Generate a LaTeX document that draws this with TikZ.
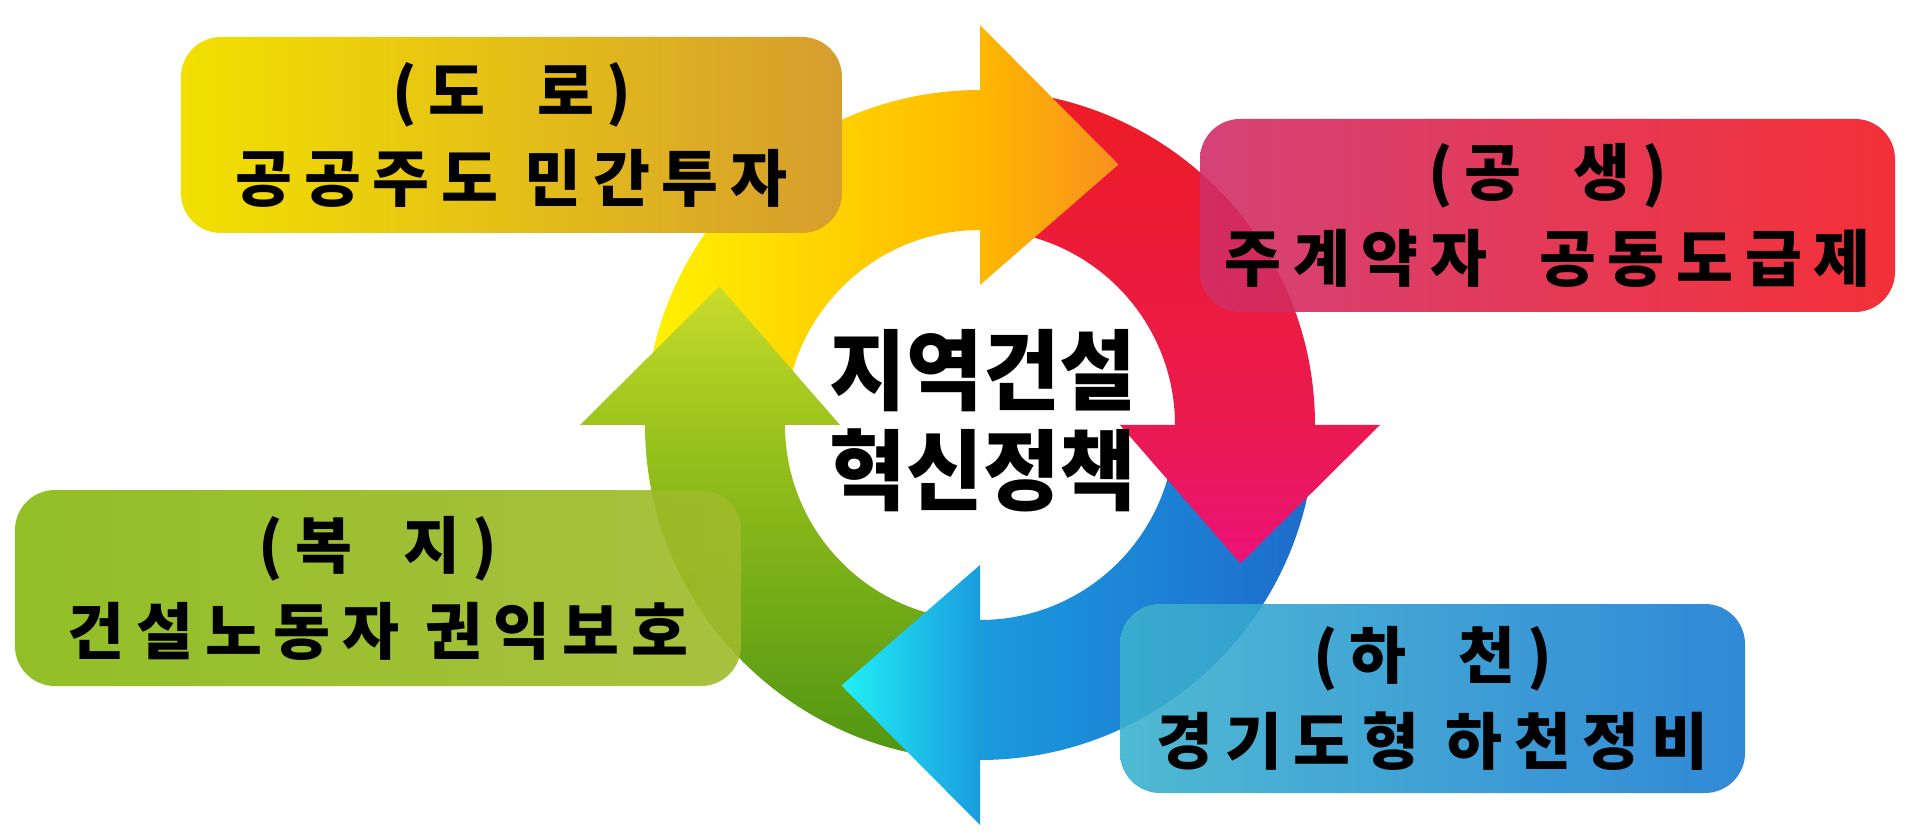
\documentclass[tikz,border=0pt]{standalone}
\usepackage{fontspec}
\newfontfamily\kr{Noto Sans CJK KR}[LetterSpace=19]
\newfontfamily\krcore{Noto Sans CJK KR}[FakeStretch=0.95]
\usetikzlibrary{positioning}

% ring colours
\definecolor{ringyellow}{HTML}{FFF200}
\definecolor{ringamber}{HTML}{FFB800}
\definecolor{ringorange}{HTML}{F7901E}
\definecolor{ringred}{HTML}{ED1C24}
\definecolor{ringcrimson}{HTML}{EA1A50}
\definecolor{ringpink}{HTML}{EC1277}
\definecolor{ringblue}{HTML}{1E6BCB}
\definecolor{ringsky}{HTML}{1A9BDE}
\definecolor{ringcyan}{HTML}{20F0F5}
\definecolor{ringgreen}{HTML}{4F9512}
\definecolor{ringlime}{HTML}{9CC41C}
\definecolor{ringyellowgreen}{HTML}{C8DC2C}
% box colours
\definecolor{roadyellow}{HTML}{F2E000}
\definecolor{roadgold}{HTML}{D69E2E}
\definecolor{coopcrimson}{HTML}{D02E68}
\definecolor{coopred}{HTML}{F21A22}
\definecolor{riverteal}{HTML}{3CB2CE}
\definecolor{riverblue}{HTML}{1A7CD2}
\definecolor{welfaregreen}{HTML}{86B810}
\definecolor{welfareolive}{HTML}{A0BA2A}

\begin{document}
\begin{tikzpicture}[
        box/.style={rounded corners=0.4cm, fill opacity=0.9, text opacity=1, align=center, inner sep=0pt,
            font=\kr\bfseries\fontsize{17.6pt}{24.5pt}\selectfont},
    ]
        \useasboundingbox (-9.80,-4.12) rectangle (9.40,4.25);

        % ring bodies
        \shade[left color=ringyellow, right color=ringamber] (180:3.35) arc[start angle=180, end angle=90, radius=3.35] -- (90:1.95) arc[start angle=90, end angle=180, radius=1.95] -- cycle;
        \shade[top color=ringred, bottom color=ringcrimson] (90:3.35) arc[start angle=90, end angle=0, radius=3.35] -- (0:1.95) arc[start angle=0, end angle=90, radius=1.95] -- cycle;
        \shade[left color=ringsky, right color=ringblue] (0:3.35) arc[start angle=0, end angle=-90, radius=3.35] -- (-90:1.95) arc[start angle=-90, end angle=0, radius=1.95] -- cycle;
        \shade[top color=ringlime, bottom color=ringgreen] (-90:3.35) arc[start angle=-90, end angle=-180, radius=3.35] -- (180:1.95) arc[start angle=180, end angle=270, radius=1.95] -- cycle;

        % ring heads
        \shade[left color=ringamber, right color=ringorange] (90:1.40) -- (90:4.00) -- (62:2.95) -- cycle;
        \shade[top color=ringcrimson, bottom color=ringpink] (0:1.40) -- (0:4.00) -- (-28:2.95) -- cycle;
        \shade[left color=ringcyan, right color=ringsky] (-90:1.40) -- (-90:4.00) -- (-118:2.95) -- cycle;
        \shade[top color=ringyellowgreen, bottom color=ringlime] (180:1.40) -- (180:4.00) -- (152:2.95) -- cycle;

        \node[font=\krcore\bfseries\fontsize{25pt}{28.5pt}\selectfont, align=center] (core) at (0.03,0.04) {지역건설\\혁신정책};

        \node[box, fill opacity=1, left color=roadyellow, right color=roadgold, minimum width=6.61cm, minimum height=1.96cm] (road) at ([xshift=-4.715cm, yshift=2.86cm]core.center) {(도~~로)\\공공주도 민간투자};
        \node[box, left color=coopcrimson, right color=coopred, minimum width=6.95cm, minimum height=1.93cm] (coop) at ([xshift=5.645cm, yshift=2.055cm]core.center) {(공~~생)\\주계약자~~공동도급제};
        \node[box, left color=riverteal, right color=riverblue, minimum width=6.25cm, minimum height=1.89cm] (river) at ([xshift=4.495cm, yshift=-2.775cm]core.center) {(하~~천)\\경기도형 하천정비};
        \node[box, left color=welfaregreen, right color=welfareolive, minimum width=7.26cm, minimum height=1.96cm] (welfare) at ([xshift=-6.05cm, yshift=-1.67cm]core.center) {(복~~지)\\건설노동자 권익보호};

    \end{tikzpicture}
\end{document}
